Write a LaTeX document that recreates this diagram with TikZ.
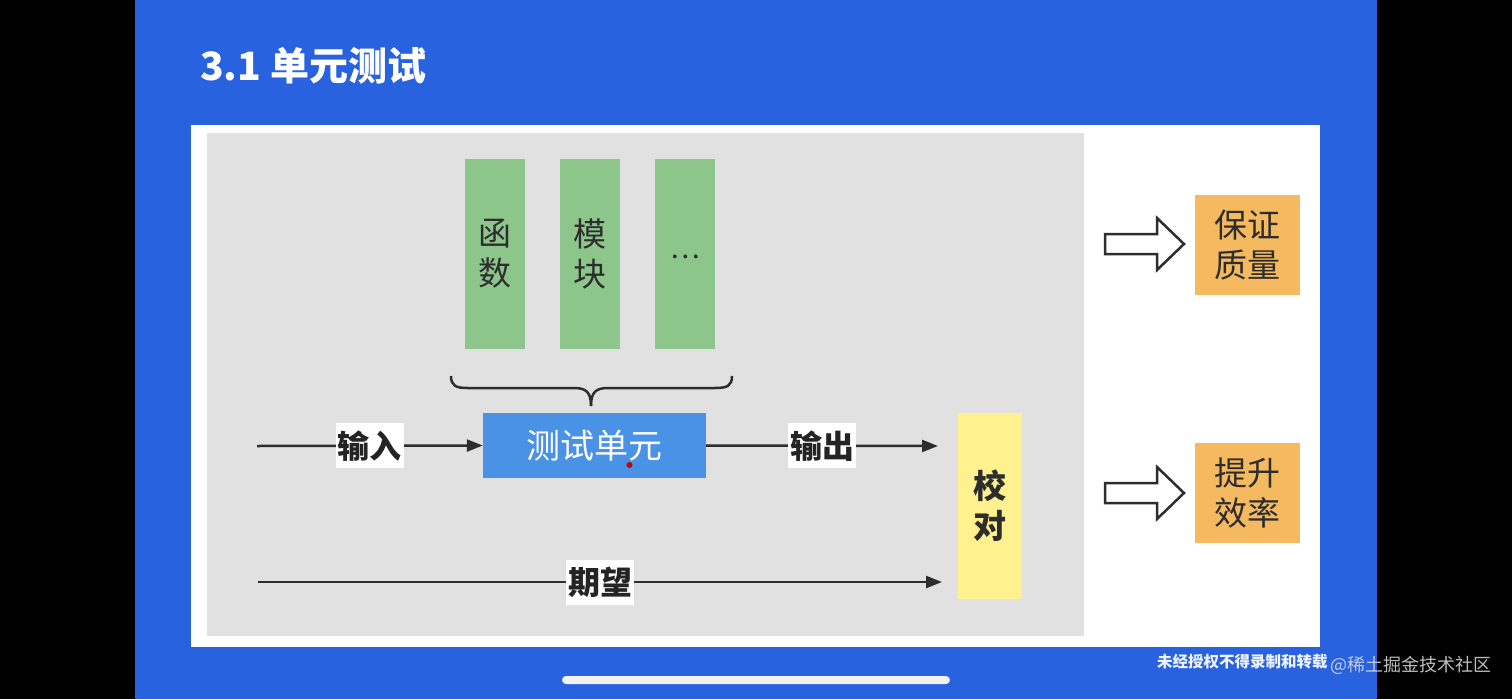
\documentclass[tikz,border=0pt]{standalone}
\usepackage{fontspec}
\newfontfamily\cjk{Noto Sans CJK SC}
\usetikzlibrary{arrows.meta}
\definecolor{slideblue}{RGB}{41,98,222}
\definecolor{panelgray}{RGB}{225,225,225}
\definecolor{boxgreen}{RGB}{141,198,139}
\definecolor{boxblue}{RGB}{74,146,230}
\definecolor{boxyellow}{RGB}{255,241,142}
\definecolor{boxorange}{RGB}{245,185,95}
\definecolor{inkdark}{RGB}{45,45,45}
\tikzset{
  fsz/.style={font=\cjk\fontsize{#1}{40}\selectfont},
  greenbox/.style={fill=boxgreen, draw=none, minimum width=60, minimum height=190, inner sep=0, text=inkdark, align=center, fsz=33},
  orangebox/.style={fill=boxorange, draw=none, minimum width=105, minimum height=100, inner sep=0, text=inkdark, align=center, fsz=33},
  lbl/.style={fill=white, inner xsep=2, inner ysep=0, minimum height=45, text=inkdark!80!black, font=\cjk\bfseries\fontsize{32}{40}\selectfont},
  conn/.style={draw=inkdark, line width=2.5, -{Triangle[length=16,width=12]}},
  hollow/.style={draw=inkdark, line width=2.5, fill=white, line join=miter},
}
\begin{document}
\begin{tikzpicture}[x=1pt,y=-1pt]
\useasboundingbox (0,0) rectangle (1512,699);
\fill[black] (0,0) rectangle (1512,699);
\fill[slideblue] (135,0) rectangle (1377,699);
\node[anchor=west, text=white, font=\cjk\bfseries\fontsize{39}{44}\selectfont, inner sep=0] (title) at (200,66) {3.1 单元测试};
% panels
\fill[white] (191,125) rectangle (1320,647);
\fill[panelgray] (207,133) rectangle (1084,636);
% green boxes
\node[greenbox] (hanshu) at (495,254) {函\\数};
\node[greenbox] (mokuai) at (590,254) {模\\块};
\node[greenbox, font=\cjk\fontsize{28}{40}\selectfont] (etc) at (685,254) {\raisebox{-10pt}{…}};
% brace
\draw[inkdark, line width=2.5] (451,376) .. controls (451,386) and (456,388) .. (468,388) -- (574,388) .. controls (586,388) and (591,392) .. (591,406);
\draw[inkdark, line width=2.5] (732,376) .. controls (732,386) and (727,388) .. (715,388) -- (608,388) .. controls (596,388) and (591,392) .. (591,406);
% unit box
\node[fill=boxblue, minimum width=223, minimum height=65, inner sep=0, text=white, fsz=34] (unit) at (594.5,445.5) {测试单元};
\fill[red!80!black] (629.5,465) circle (3);
% check box
\node[fill=boxyellow, minimum width=64, minimum height=186, inner sep=0, text=inkdark, align=center, font=\cjk\bfseries\fontsize{33}{40}\selectfont] (check) at (990,506) {校\\对};
% start coordinates
\coordinate (inStart) at (257,446);
\coordinate (expStart) at (258,582);
\coordinate (outEnd) at (938,446);
\coordinate (expEnd) at (942,582);
\draw[conn] (inStart) -- node[lbl, pos=0.5] (inl) {输入} (unit.west);
\draw[conn] (unit.east) -- node[lbl, pos=0.5] (outl) {输出} (outEnd);
\draw[conn] (expStart) -- node[lbl, pos=0.5] (expl) {期望} (expEnd);
% hollow arrows
\draw[hollow] (1105,234) -- (1157,234) -- (1157,218) -- (1184,244) -- (1157,270) -- (1157,254) -- (1105,254) -- cycle;
\draw[hollow] (1105,483) -- (1157,483) -- (1157,467) -- (1184,493) -- (1157,519) -- (1157,503) -- (1105,503) -- cycle;
% result boxes
\node[orangebox] (quality) at (1247.5,244.5) {保证\\质量};
\node[orangebox] (eff) at (1247.5,493) {提升\\效率};
% watermarks
\node[anchor=west, text=white!92!slideblue, font=\cjk\bfseries\fontsize{15.5}{18}\selectfont, inner sep=0] (wm1) at (1157,662) {未经授权不得录制和转载};
\node[anchor=west, text=white!75!gray, opacity=0.85, font=\cjk\fontsize{18}{20}\selectfont, inner sep=0] (wm2) at (1330,665) {@稀土掘金技术社区};
% home indicator
\fill[white!90!gray, rounded corners=4] (562,676) rectangle (950,684);
\end{tikzpicture}
\end{document}
